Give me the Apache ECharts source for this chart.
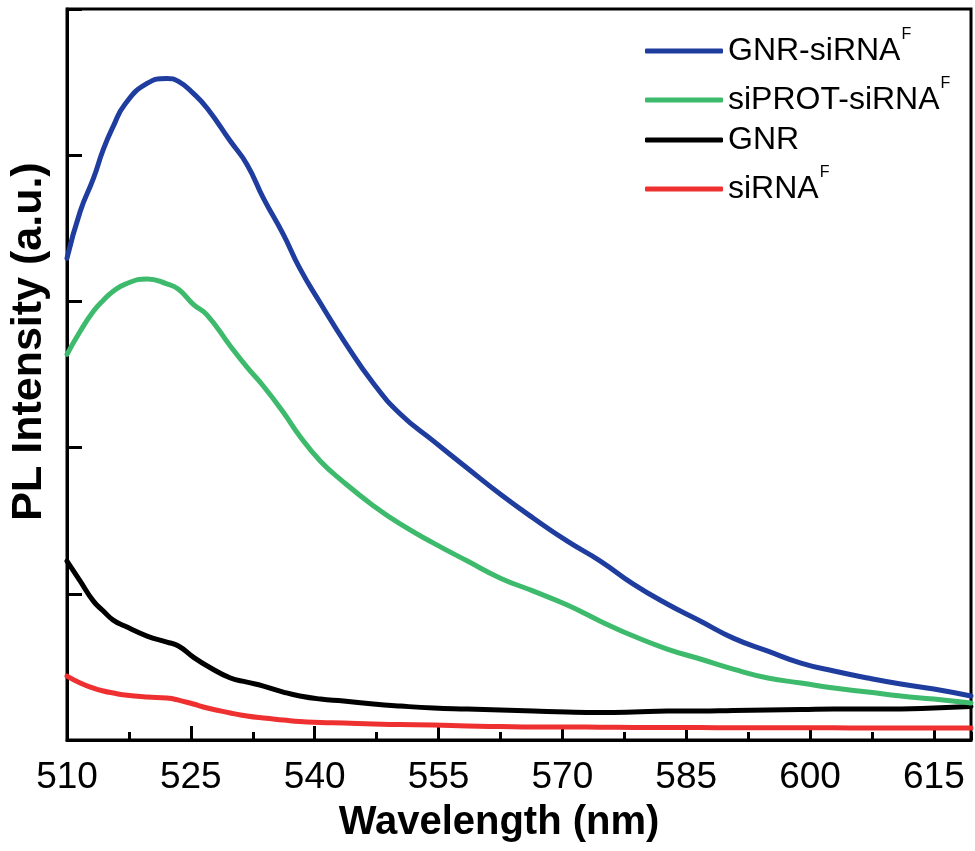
<!DOCTYPE html>
<html>
<head>
<meta charset="utf-8">
<script src="https://cdn.jsdelivr.net/npm/echarts@6/dist/echarts.min.js"></script>
<style>
html,body{margin:0;padding:0;background:#fff;}
#chart{width:975px;height:851px;}
</style>
</head>
<body>
<div id="chart"></div>
<script>
// Wavelength sample points (nm)
const wavelength = [510.0, 511.6, 513.2, 514.4, 515.6, 517.0, 519.7, 522.1, 523.5, 525.3, 527.0, 529.8, 531.8, 533.8, 536.2, 538.2, 540.7, 543.5, 547.1, 550.4, 554.4, 558.5, 562.5, 566.5, 570.6, 574.6, 578.6, 582.7, 586.7, 590.7, 594.9, 598.9, 602.9, 607.0, 611.0, 615.0, 619.5];
// PL intensity (a.u.), one tick = 1 unit
const gnrSirna = [3.295, 3.616, 3.841, 4.040, 4.197, 4.347, 4.491, 4.525, 4.505, 4.423, 4.320, 4.095, 3.937, 3.705, 3.459, 3.226, 2.987, 2.734, 2.440, 2.228, 2.044, 1.859, 1.681, 1.517, 1.360, 1.224, 1.066, 0.930, 0.814, 0.697, 0.608, 0.526, 0.472, 0.424, 0.383, 0.349, 0.301];
const siprotSirna = [2.638, 2.796, 2.932, 3.008, 3.069, 3.117, 3.154, 3.120, 3.083, 2.980, 2.905, 2.693, 2.550, 2.420, 2.242, 2.078, 1.907, 1.764, 1.603, 1.476, 1.347, 1.224, 1.107, 1.018, 0.923, 0.813, 0.711, 0.622, 0.554, 0.485, 0.424, 0.390, 0.355, 0.328, 0.301, 0.280, 0.253];
const gnr = [1.224, 1.087, 0.950, 0.882, 0.820, 0.779, 0.711, 0.670, 0.643, 0.567, 0.506, 0.424, 0.396, 0.369, 0.328, 0.301, 0.280, 0.267, 0.246, 0.232, 0.219, 0.212, 0.205, 0.198, 0.191, 0.188, 0.191, 0.198, 0.198, 0.202, 0.205, 0.208, 0.212, 0.212, 0.212, 0.219, 0.229];
const sirna = [0.437, 0.390, 0.355, 0.335, 0.321, 0.308, 0.294, 0.287, 0.273, 0.246, 0.219, 0.185, 0.164, 0.150, 0.137, 0.126, 0.120, 0.116, 0.109, 0.106, 0.103, 0.096, 0.092, 0.089, 0.089, 0.087, 0.086, 0.085, 0.085, 0.084, 0.084, 0.083, 0.083, 0.082, 0.082, 0.082, 0.082];

const seriesNames = ['GNR-siRNA', 'siPROT-siRNA', 'GNR', 'siRNA'];
const seriesValues = [gnrSirna, siprotSirna, gnr, sirna];
const seriesColors = ['#1f3d9e', '#3dba6c', '#000000', '#ee3030'];
const superscript = [true, true, false, true];

const xMin = 510, xMax = 619.5, xStep = 15;
const yMin = 0, yMax = 5, yStep = 1;

const chart = echarts.init(document.getElementById('chart'));
const FONT = '"Liberation Sans", Arial, sans-serif';

const series = seriesNames.map((name, i) => ({
  name: name,
  type: 'line',
  showSymbol: false,
  symbol: 'none',
  smooth: 0.5,
  z: 10 - i,
  lineStyle: { color: seriesColors[i], width: 5, cap: 'round', join: 'round' },
  itemStyle: { color: seriesColors[i] },
  data: wavelength.map((w, k) => [w, seriesValues[i][k]])
}));

// legend rows placed individually (rows with superscripts are taller)
const legendTops = [27, 76, 124, 165];
const legends = seriesNames.map((name, i) => ({
  orient: 'vertical',
  left: 645,
  top: legendTops[i],
  padding: 0,
  itemWidth: 78,
  itemHeight: 5,
  icon: 'roundRect',
  data: [name],
  formatter: function (n) {
    return superscript[i] ? '{a|' + n + '}{s|F}' : '{b|' + n + '}';
  },
  textStyle: {
    fontFamily: FONT,
    color: '#000',
    rich: {
      a: { fontFamily: FONT, fontSize: 32, color: '#000' },
      b: { fontFamily: FONT, fontSize: 32, lineHeight: 32, color: '#000' },
      s: { fontFamily: FONT, fontSize: 16, color: '#000', padding: [0, 0, 32, 1] }
    }
  }
}));

chart.setOption({
  animation: false,
  backgroundColor: '#ffffff',
  grid: {
    left: 67, right: 4, top: 9, bottom: 111,
    outerBoundsMode: 'none',
    containLabel: false,
    show: true, borderColor: '#000', borderWidth: 3, backgroundColor: 'transparent'
  },
  legend: legends,
  xAxis: [{
    type: 'value',
    min: xMin, max: xMax, interval: xStep,
    name: 'Wavelength (nm)',
    nameLocation: 'middle',
    nameGap: 63,
    nameMoveOverlap: false,
    nameTextStyle: { fontFamily: FONT, fontSize: 40, fontWeight: 'bold', color: '#000', padding: [0, 40, 0, 0] },
    axisLine: { show: true, lineStyle: { color: '#000', width: 3 } },
    axisTick: { show: true, inside: true, length: 14, lineStyle: { color: '#000', width: 3 } },
    axisLabel: { show: true, margin: 19, fontFamily: FONT, fontSize: 37, color: '#000', showMaxLabel: false },
    splitLine: { show: false }
  }, {
    type: 'value',
    position: 'bottom',
    min: xMin, max: xMax, interval: xStep / 2,
    axisLine: { show: false },
    axisTick: { show: true, inside: true, length: 8, lineStyle: { color: '#000', width: 3 } },
    axisLabel: { show: false },
    splitLine: { show: false }
  }],
  yAxis: [{
    type: 'value',
    min: yMin, max: yMax, interval: yStep,
    name: 'PL Intensity (a.u.)',
    nameLocation: 'middle',
    nameGap: 16,
    nameMoveOverlap: false,
    nameTextStyle: { fontFamily: FONT, fontSize: 43, fontWeight: 'bold', color: '#000', padding: [0, 0, 0, 66] },
    axisLine: { show: true, lineStyle: { color: '#000', width: 3 } },
    axisTick: { show: true, inside: true, length: 15, lineStyle: { color: '#000', width: 3 } },
    axisLabel: { show: false },
    splitLine: { show: false }
  }],
  series: series
});
</script>
</body>
</html>
